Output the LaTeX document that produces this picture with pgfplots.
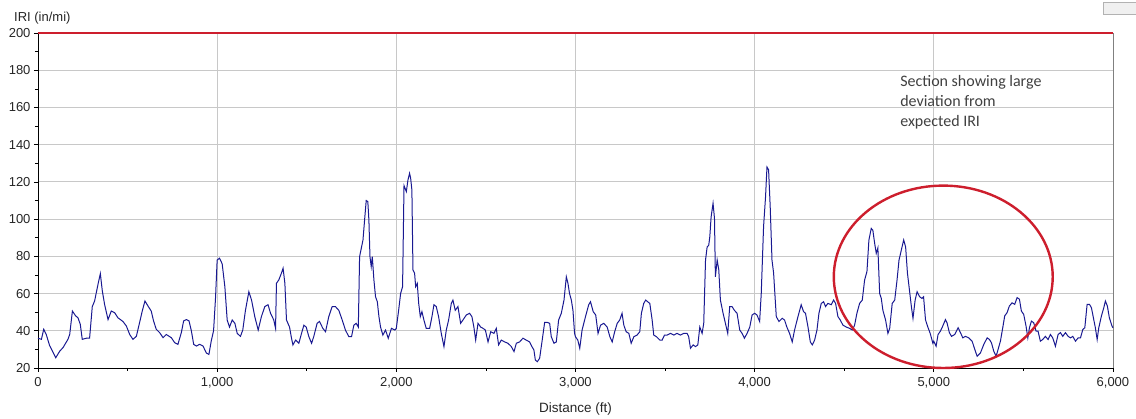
\documentclass[border=0pt]{standalone}
\usepackage{pgfplots}
\pgfplotsset{compat=1.18}
\usepackage{fontspec}
\setmainfont{Liberation Sans}
\newfontfamily\carlito{Carlito}
\definecolor{iriblue}{RGB}{25,25,145}
\definecolor{irired}{RGB}{205,30,45}
\definecolor{gridgray}{RGB}{200,200,200}
\begin{document}
\begin{tikzpicture}
\path[use as bounding box] (-38pt,-51pt) rectangle (1098pt,368pt);
\begin{axis}[
  scale only axis,
  width=1075pt, height=335pt,
  xmin=0, xmax=6000, ymin=20, ymax=200,
  axis x line*=bottom, axis y line*=left,
  axis line style={-, black, line width=0.8pt},
  xtick={0,1000,2000,3000,4000,5000,6000},
  xticklabels={0,{1,000},{2,000},{3,000},{4,000},{5,000},{6,000}},
  ytick={20,40,...,200},
  minor x tick num=1, minor y tick num=1,
  tick align=outside,
  major tick length=4pt, minor tick length=3pt,
  tick style={black, line width=0.6pt},
  xmajorgrids, ymajorgrids,
  major grid style={gridgray, line width=0.8pt},
  /pgf/number format/assume math mode=true,
  ticklabel style={font=\fontsize{13}{15}\selectfont, text=black!85},
  xticklabel style={yshift=-2pt},
  clip=false,
]
% right border
\draw[gray, line width=0.8pt] (rel axis cs:1,0) -- (rel axis cs:1,1);
% limit line at 200
\addplot[irired, line width=1.6pt] coordinates {(0,200) (6000,200)};
% IRI profile
\addplot[iriblue, line width=1pt] coordinates {
(0,36) (19,35.4) (32,40.8) (46,38) (65,32) (99,25.5) (121,29) (140,31) (167,35.4) (177,38)
(192,50.6) (210,48) (223,47) (236,43.5) (247,35.4) (270,36) (288,36) (303,53) (316,56) (335,65)
(348,70.7) (359,61.4) (372,54) (391,46) (409,50.6) (428,49.7) (446,47) (474,45) (493,42.6) (512,38)
(530,35.4) (549,37) (567,44.4) (582,50.6) (597,56) (614,53.3) (632,50.6) (645,45.3) (660,40.8) (679,39)
(698,36.3) (716,38) (744,36.3) (763,33.6) (781,32.7) (800,39) (813,45.3) (828,46) (843,45.3) (856,40)
(869,32.7) (884,31.8) (902,32.7) (921,31.8) (940,28) (954,27.3) (967,34.5) (980,40) (991,57.8)
(1000,78) (1013,79) (1028,76) (1043,63.7) (1056,45.8) (1069,42) (1084,45.8) (1099,44) (1112,38.6) (1130,37)
(1143,40.4) (1158,51) (1177,61) (1192,56.5) (1210,47.6) (1229,40.4) (1247,47.6) (1266,53) (1284,54) (1298,49.4)
(1316,45.8) (1326,41.3) (1331,65.5) (1344,67.3) (1359,71) (1368,73.6) (1378,65.5) (1387,45.8) (1404,42) (1415,36)
(1423,32.4) (1438,35) (1456,33.3) (1471,38.6) (1484,43) (1497,42) (1512,36.8) (1527,33.3) (1539,36.8) (1558,44)
(1571,45) (1590,41.3) (1605,39.5) (1623,47.6) (1642,53) (1660,53) (1679,51) (1698,45.8) (1716,40.4) (1735,36.8)
(1750,36.8) (1763,43) (1776,44) (1788,42) (1795,79.8) (1806,85) (1814,88.8) (1823,99.5) (1832,110) (1841,109.4)
(1847,99.5) (1853,79.8) (1860,74.5) (1866,79.8) (1875,67.3) (1884,58.3) (1894,55.6) (1903,47.6) (1912,42) (1925,37.7)
(1940,40.4) (1955,36) (1973,41.3) (1992,40.4)
(2000,41.3) (2013,51) (2024,60) (2035,63.7) (2043,118) (2056,114.8) (2065,121) (2074,124.6) (2080,122) (2087,115.6)
(2093,72.7) (2102,71) (2108,63.7) (2117,65.5) (2125,54.7) (2134,47.6) (2143,50.3) (2154,45.8) (2167,41.3) (2186,41.3)
(2199,47.6) (2210,54) (2223,53) (2236,47.6) (2251,38.6) (2266,31.5) (2279,40.4) (2292,45.8) (2307,54.7) (2316,56.5)
(2329,51) (2344,53) (2359,44) (2372,45.8) (2391,48.5) (2409,49.4) (2422,47.6) (2433,42) (2443,35) (2456,44)
(2471,42) (2484,41.3) (2497,40.4) (2512,34) (2527,39.5) (2545,38.6) (2558,41.3) (2571,32.4) (2586,35) (2605,34)
(2623,33.3) (2642,31.5) (2657,28.8) (2670,33.3) (2688,34) (2707,36) (2725,35) (2744,34) (2757,31.5) (2768,29.7)
(2776,24.3) (2787,23.4) (2800,25.2) (2813,34) (2828,44.5) (2843,44.5) (2856,44) (2865,36.8) (2880,33.3) (2893,34)
(2906,45.8) (2921,49.4) (2936,56.5) (2949,69) (2958,65.5) (2967,60) (2977,56.5) (2986,51) (2995,38.6)
(3000,36.8) (3013,35) (3024,30.6) (3037,40.4) (3056,47.6) (3074,54) (3084,55.6) (3099,50.3) (3113,48.5) (3126,38.6)
(3140,43) (3158,44) (3177,42) (3192,36.8) (3205,34) (3219,39.5) (3233,44) (3247,45.8) (3260,49.4) (3270,43)
(3283,39.5) (3298,38.6) (3311,33.3) (3326,36.8) (3344,37.7) (3359,39.5) (3368,49.4) (3381,54.7) (3392,56.5) (3403,55.6)
(3415,54.7) (3428,45.8) (3437,37.7) (3452,36.8) (3471,35) (3484,35) (3497,37.7) (3512,37.7) (3530,38.6) (3549,37.7)
(3567,38.6) (3586,37.7) (3605,38.6) (3623,38.6) (3632,36.8) (3642,30.6) (3657,32.4) (3670,31.5) (3683,32.4) (3694,42)
(3707,38.6) (3716,44) (3726,78) (3735,85) (3744,86) (3750,90.6) (3757,101) (3768,108.5) (3776,100.4) (3781,69)
(3791,78) (3800,72.7) (3809,56.5) (3824,49.4) (3837,44) (3850,38.6) (3861,53) (3874,53) (3887,51) (3902,49.4)
(3917,40.4) (3930,38.6) (3943,36) (3958,38.6) (3973,42) (3986,48.5)
(4000,49.4) (4013,48.5) (4028,45) (4037,60) (4050,96) (4061,112) (4069,128) (4078,126.5) (4087,106.7) (4097,78)
(4106,71) (4113,60) (4121,47.6) (4136,45) (4154,46.7) (4167,45.8) (4180,42) (4195,38.6) (4210,34) (4223,40.4)
(4242,47.6) (4260,54) (4273,50.3) (4284,49.4) (4298,42) (4311,34) (4322,32.4) (4335,35) (4348,40.4) (4359,49.4)
(4372,54.7) (4385,55.6) (4396,53) (4409,54.7) (4428,54) (4441,56.5) (4452,54.7) (4465,47.6) (4478,45.8) (4493,43)
(4512,42) (4530,41.3) (4545,40.4) (4558,43) (4571,49.4) (4586,54.7) (4601,56.5) (4614,67.3) (4627,71.8) (4638,88.8)
(4651,95) (4660,94) (4670,87) (4679,81.6) (4688,84.5) (4698,60) (4707,57.4) (4716,51) (4731,45.8) (4744,38.6)
(4754,41.3) (4768,54.7) (4782,56.5) (4795,67.3) (4806,78) (4819,83.4) (4832,88.8) (4843,85) (4853,71) (4862,63.7)
(4875,53) (4884,46.7) (4896,56.5) (4907,61) (4921,58.3) (4934,57.4) (4943,58.3) (4954,45.8) (4967,42) (4980,38.6)
(4995,33.3)
(5000,34.4) (5013,31.7) (5024,38) (5037,39.8) (5050,42.5) (5065,46) (5074,44.3) (5087,39) (5099,37) (5117,38)
(5136,41.6) (5149,39) (5162,36.2) (5177,37) (5195,36.2) (5214,34.4) (5229,30) (5242,26.3) (5260,28) (5279,32.6)
(5298,36.2) (5311,35.3) (5322,33.5) (5335,29) (5348,26.3) (5359,30) (5372,34.4) (5385,41.6) (5396,48) (5409,49.7)
(5422,53.3) (5437,55) (5452,54.2) (5465,57.8) (5478,57) (5489,50.6) (5502,48.8) (5515,42.5) (5525,36.2) (5534,41.6)
(5545,45.2) (5558,44.3) (5571,39.8) (5582,39.8) (5595,34.4) (5608,35.3) (5623,37) (5638,35.3) (5651,38) (5664,36.2)
(5679,31.7) (5694,38) (5707,39) (5720,37) (5735,39) (5750,37) (5763,36.2) (5776,37) (5791,34.4) (5806,36.2)
(5819,36.2) (5832,40.7) (5843,41.6) (5856,54.2) (5869,54.2) (5880,52.4) (5893,46) (5902,41.6) (5912,35.3) (5921,41.6)
(5936,48) (5949,52.4) (5958,56) (5969,53.3) (5980,47) (5995,42.5) (6000,41.6)
};
% ellipse
\draw[irired, line width=2.4pt] (axis cs:5053,69) ellipse [x radius=611, y radius=49];
% annotation
\node[anchor=base west, align=left, inner sep=0pt, text=black!75,
  font=\carlito\fontsize{16}{20}\selectfont] at (axis cs:4812,150)
  {Section showing large\\deviation from\\expected IRI};
% axis labels
\node[anchor=base west, inner sep=0pt, font=\fontsize{13}{15}\selectfont, text=black!85]
  at ([xshift=-24pt, yshift=11pt]rel axis cs:0,1) {IRI (in/mi)};
\node[anchor=base, inner sep=0pt, font=\fontsize{13.5}{15}\selectfont, text=black!85]
  at ([yshift=-45pt]rel axis cs:0.5,0) {Distance (ft)};
\end{axis}
% small button remnant top right
\draw[gray!60, fill=gray!12] (1065pt,354pt) rectangle (1098pt,366pt);
\end{tikzpicture}
\end{document}
